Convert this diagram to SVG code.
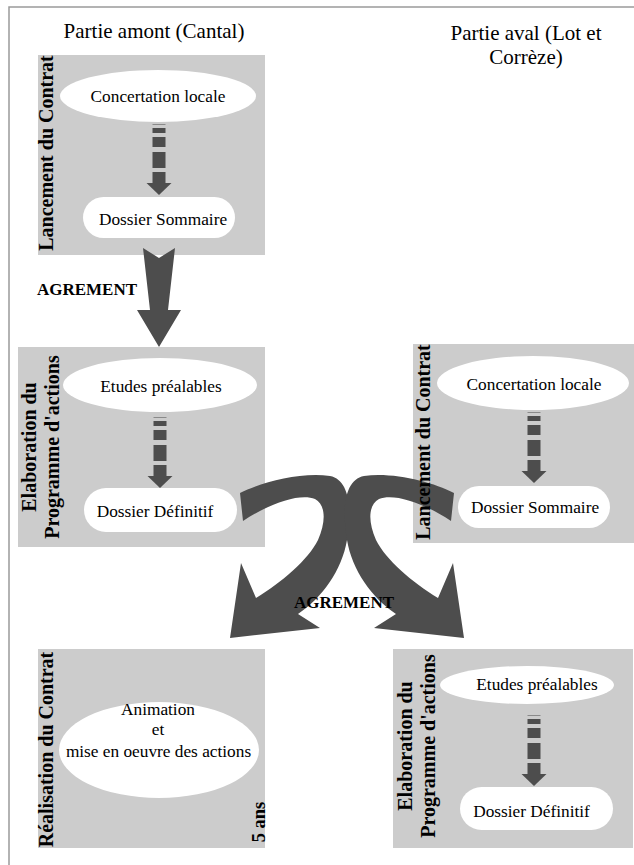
<svg xmlns="http://www.w3.org/2000/svg" xmlns:xlink="http://www.w3.org/1999/xlink" width="634" height="865" viewBox="0 0 634 865">
<style>
.bg{fill:#cccccc}
.wh{fill:#ffffff}
.t{font-family:'Liberation Serif','DejaVu Serif',serif;font-weight:normal;font-style:normal;font-size:17.3px;fill:#000;text-anchor:middle}
.h{font-family:'Liberation Serif','DejaVu Serif',serif;font-weight:normal;font-style:normal;font-size:21px;fill:#000;text-anchor:middle}
.v{font-family:'Liberation Serif','DejaVu Serif',serif;font-size:20px;font-weight:bold;fill:#000;text-anchor:middle}
.a{font-family:'Liberation Serif','DejaVu Serif',serif;font-size:17px;font-weight:bold;fill:#000;text-anchor:middle}
.arr{fill:#4d4d4d}
.frame{fill:none;stroke:#9a9a9a;stroke-width:1.5}
</style>
<defs>
<g id="dash" class="arr">
<rect x="-6.5" y="0" width="13" height="1" fill="#8a8a8a"/>
<rect x="-6.5" y="4" width="13" height="5"/>
<rect x="-6.5" y="13" width="13" height="10"/>
<rect x="-6.5" y="28" width="13" height="16"/>
<rect x="-6.5" y="48" width="13" height="11.5"/>
<polygon points="-12.5,59 12.5,59 0,71"/>
</g>
<path id="curve" d="M240,493 C262,482 300,472 330,476 C350,480 352,510 347,540 C342,570 322,598 298,614 L320,628 L230,638 L241,563 L256,598 C282,582 308,560 318,540 C326,522 326,505 315,499 C300,493 270,503 243,521 Z"/>
</defs>
<path class="frame" d="M634,7 H9 V865"/>
<g id="headers">
<text class="h" x="154" y="38">Partie amont (Cantal)</text>
<text class="h" x="526" y="40">Partie aval (Lot et</text>
<text class="h" x="526" y="64">Corrèze)</text>
</g>
<g id="lancement-amont">
<rect class="bg" x="38" y="55" width="227" height="200"/>
<text class="v" transform="translate(53,153) rotate(-90)">Lancement du Contrat</text>
<ellipse class="wh" cx="158" cy="96" rx="98" ry="26"/>
<text class="t" x="158" y="102">Concertation locale</text>
<rect class="wh" x="83" y="197" width="152" height="41" rx="20.5"/>
<text class="t" x="163" y="225">Dossier Sommaire</text>
</g>
<g id="elaboration-amont">
<rect class="bg" x="18" y="347" width="247" height="200"/>
<text class="v" transform="translate(36,447) rotate(-90)">Elaboration du</text>
<text class="v" transform="translate(58.5,447) rotate(-90)">Programme d'actions</text>
<ellipse class="wh" cx="160" cy="385" rx="97" ry="27"/>
<text class="t" x="161" y="392">Etudes préalables</text>
<rect class="wh" x="84" y="488" width="153" height="44" rx="22"/>
<text class="t" x="155" y="517">Dossier Définitif</text>
</g>
<g id="lancement-aval">
<rect class="bg" x="413" y="344" width="221" height="199"/>
<ellipse class="wh" cx="533" cy="383" rx="96" ry="27"/>
<text class="t" x="534" y="390">Concertation locale</text>
<rect class="wh" x="458" y="486" width="152" height="42" rx="21"/>
<text class="t" x="535" y="513">Dossier Sommaire</text>
</g>
<g id="realisation-amont">
<rect class="bg" x="38" y="649" width="227" height="199"/>
<text class="v" transform="translate(53,749.5) rotate(-90)">Réalisation du Contrat</text>
<ellipse class="wh" cx="159" cy="750" rx="100" ry="48"/>
<text class="t" x="158" y="715">Animation</text>
<text class="t" x="158" y="735">et</text>
<text class="t" x="158.5" y="757">mise en oeuvre des actions</text>
<text class="v" style="font-size:18.5px" transform="translate(265,822) rotate(-90)">5 ans</text>
</g>
<g id="elaboration-aval">
<rect class="bg" x="393" y="649" width="240" height="199"/>
<text class="v" transform="translate(412,746) rotate(-90)">Elaboration du</text>
<text class="v" transform="translate(434.5,746) rotate(-90)">Programme d'actions</text>
<ellipse class="wh" cx="527" cy="685" rx="87" ry="19"/>
<text class="t" x="537" y="690">Etudes préalables</text>
<rect class="wh" x="460" y="787" width="153" height="43" rx="21.5"/>
<text class="t" x="531.5" y="817">Dossier Définitif</text>
</g>
<g id="connectors">
<use xlink:href="#dash" transform="translate(159,124)"/>
<use xlink:href="#dash" transform="translate(160,417)"/>
<use xlink:href="#dash" transform="translate(534,412)"/>
<use xlink:href="#dash" transform="translate(534,715)"/>
<polygon class="arr" points="143,248 159,258 175,248 168,310 181,310 159,347 137,310 150,310"/>
<text class="a" x="87" y="295">AGREMENT</text>
<use xlink:href="#curve" class="arr"/>
<use xlink:href="#curve" class="arr" transform="translate(694,0) scale(-1,1)"/>
<text class="a" x="344" y="608">AGREMENT</text>
</g>
<g id="lancement-aval-label">
<text class="v" transform="translate(430,442) rotate(-90)">Lancement du Contrat</text>
</g>
</svg>
